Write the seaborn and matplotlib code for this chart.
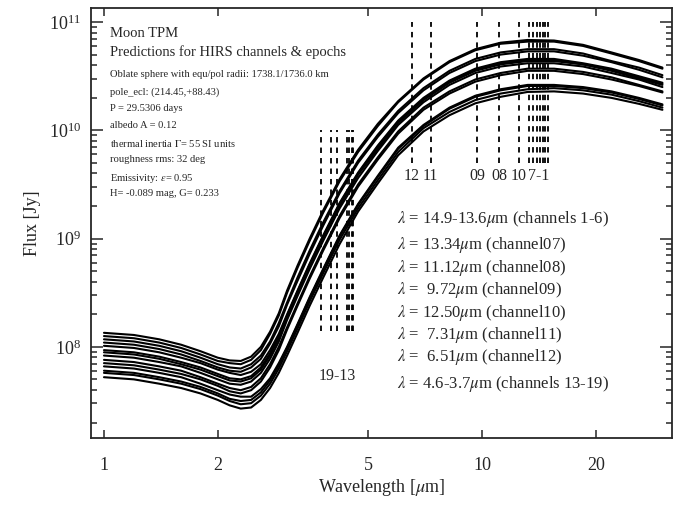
import numpy as np
import pandas as pd
import matplotlib
matplotlib.use("Agg")
import matplotlib.pyplot as plt
import seaborn as sns
from matplotlib.ticker import FixedLocator, NullLocator, LogLocator, LogFormatterSciNotation, FixedFormatter

# ---------------- data ----------------
wavelength = [1.0, 1.2, 1.4, 1.6, 1.8, 2.0, 2.15, 2.3, 2.45, 2.6, 2.75, 2.9, 3.05, 3.25, 3.5,
              3.8, 4.2, 4.7, 5.3, 6.0, 7.0, 8.2, 9.6, 11.2, 13.2, 15.5, 18.5, 22.0, 26.0, 30.0]

# log10(flux [Jy]) of each epoch's TPM prediction
logflux_e01 = [8.13, 8.11, 8.07, 8.02, 7.96, 7.90, 7.875, 7.87, 7.91, 8.00, 8.14, 8.31, 8.52, 8.75, 9.00, 9.26, 9.55, 9.82, 10.06, 10.27, 10.48, 10.64, 10.75, 10.81, 10.835, 10.83, 10.79, 10.72, 10.65, 10.58]
logflux_e02 = [8.10, 8.08, 8.04, 7.99, 7.93, 7.87, 7.85, 7.84, 7.88, 7.97, 8.12, 8.29, 8.50, 8.73, 8.98, 9.24, 9.53, 9.80, 10.04, 10.26, 10.47, 10.63, 10.74, 10.80, 10.82, 10.82, 10.78, 10.71, 10.64, 10.57]
logflux_e03 = [8.07, 8.05, 8.01, 7.96, 7.90, 7.84, 7.81, 7.80, 7.84, 7.92, 8.05, 8.22, 8.41, 8.64, 8.89, 9.15, 9.44, 9.72, 9.96, 10.18, 10.39, 10.55, 10.66, 10.72, 10.75, 10.75, 10.71, 10.64, 10.58, 10.51]
logflux_e04 = [8.04, 8.02, 7.98, 7.93, 7.87, 7.81, 7.78, 7.77, 7.81, 7.89, 8.03, 8.19, 8.39, 8.61, 8.86, 9.12, 9.42, 9.70, 9.94, 10.16, 10.37, 10.53, 10.64, 10.70, 10.73, 10.73, 10.69, 10.63, 10.56, 10.49]
logflux_e05 = [8.01, 7.99, 7.95, 7.90, 7.85, 7.79, 7.76, 7.74, 7.77, 7.84, 7.97, 8.12, 8.30, 8.52, 8.77, 9.03, 9.33, 9.61, 9.86, 10.09, 10.30, 10.46, 10.57, 10.63, 10.66, 10.66, 10.62, 10.57, 10.50, 10.44]
logflux_e06 = [7.97, 7.95, 7.91, 7.86, 7.81, 7.75, 7.71, 7.70, 7.73, 7.81, 7.94, 8.10, 8.29, 8.51, 8.76, 9.02, 9.32, 9.60, 9.85, 10.08, 10.29, 10.45, 10.56, 10.62, 10.65, 10.65, 10.61, 10.56, 10.49, 10.43]
logflux_e07 = [7.95, 7.93, 7.89, 7.84, 7.79, 7.73, 7.69, 7.68, 7.71, 7.79, 7.92, 8.08, 8.27, 8.50, 8.75, 9.01, 9.30, 9.59, 9.83, 10.07, 10.28, 10.44, 10.55, 10.61, 10.64, 10.64, 10.61, 10.55, 10.48, 10.42]
logflux_e08 = [7.92, 7.90, 7.86, 7.82, 7.76, 7.70, 7.66, 7.65, 7.68, 7.76, 7.89, 8.05, 8.25, 8.47, 8.72, 8.98, 9.28, 9.56, 9.81, 10.05, 10.26, 10.42, 10.53, 10.59, 10.62, 10.62, 10.59, 10.53, 10.47, 10.40]
logflux_e09 = [7.88, 7.86, 7.82, 7.78, 7.72, 7.66, 7.62, 7.60, 7.63, 7.71, 7.84, 8.00, 8.18, 8.40, 8.65, 8.91, 9.21, 9.50, 9.75, 9.99, 10.21, 10.36, 10.47, 10.53, 10.57, 10.57, 10.54, 10.49, 10.42, 10.36]
logflux_e10 = [7.85, 7.83, 7.79, 7.75, 7.70, 7.64, 7.59, 7.57, 7.60, 7.68, 7.81, 7.97, 8.16, 8.38, 8.63, 8.89, 9.19, 9.48, 9.73, 9.97, 10.19, 10.34, 10.45, 10.51, 10.55, 10.55, 10.52, 10.47, 10.41, 10.35]
logflux_e11 = [7.82, 7.80, 7.76, 7.72, 7.66, 7.60, 7.56, 7.54, 7.54, 7.61, 7.71, 7.85, 8.00, 8.21, 8.46, 8.72, 9.03, 9.32, 9.58, 9.84, 10.05, 10.21, 10.32, 10.38, 10.42, 10.42, 10.40, 10.36, 10.30, 10.24]
logflux_e12 = [7.78, 7.76, 7.72, 7.68, 7.63, 7.57, 7.52, 7.50, 7.51, 7.58, 7.69, 7.83, 7.99, 8.20, 8.45, 8.71, 9.02, 9.31, 9.57, 9.83, 10.04, 10.20, 10.31, 10.37, 10.41, 10.41, 10.39, 10.35, 10.29, 10.23]
logflux_e13 = [7.76, 7.74, 7.70, 7.66, 7.61, 7.55, 7.50, 7.47, 7.48, 7.55, 7.66, 7.80, 7.96, 8.17, 8.42, 8.68, 8.99, 9.28, 9.54, 9.80, 10.02, 10.17, 10.28, 10.34, 10.38, 10.39, 10.37, 10.33, 10.27, 10.21]
logflux_e14 = [7.72, 7.70, 7.66, 7.62, 7.57, 7.51, 7.46, 7.43, 7.44, 7.51, 7.62, 7.76, 7.92, 8.13, 8.38, 8.64, 8.95, 9.25, 9.51, 9.77, 9.99, 10.14, 10.25, 10.31, 10.355, 10.36, 10.34, 10.30, 10.245, 10.19]

epochs = {
    "e01": logflux_e01, "e02": logflux_e02, "e03": logflux_e03, "e04": logflux_e04,
    "e05": logflux_e05, "e06": logflux_e06, "e07": logflux_e07, "e08": logflux_e08,
    "e09": logflux_e09, "e10": logflux_e10, "e11": logflux_e11, "e12": logflux_e12,
    "e13": logflux_e13, "e14": logflux_e14,
}

# HIRS channel wavelengths [micron]
long_channels = [14.95, 14.71, 14.49, 14.22, 13.97, 13.64, 13.34, 11.12, 9.72, 12.50, 7.31, 6.51]
short_channels = [4.57, 4.52, 4.46, 4.40, 4.13, 3.98, 3.76]
long_span = [5.0e9, 1.0e11]
short_span = [1.4e8, 1.0e10]

long_labels = ["12", "11", "09", "08", "10", "7-1"]
long_label_x = [6.51, 7.31, 9.72, 11.12, 12.50, 14.1]
short_label = "19-13"

info_lines = [
    "Oblate sphere with equ/pol radii: 1738.1/1736.0 km",
    "pole_ecl: (214.45,+88.43)",
    "P = 29.5306 days",
    "albedo A = 0.12",
    r"thermal inertia $\Gamma$= 55 SI units",
    "roughness rms: 32 deg",
    r"Emissivity: $\varepsilon$= 0.95",
    "H= -0.089 mag, G= 0.233",
]
channel_lines = [
    r"$\lambda$ = 14.9-13.6$\mu$m (channels 1-6)",
    r"$\lambda$ = 13.34$\mu$m (channel07)",
    r"$\lambda$ = 11.12$\mu$m (channel08)",
    r"$\lambda$ =  9.72$\mu$m (channel09)",
    r"$\lambda$ = 12.50$\mu$m (channel10)",
    r"$\lambda$ =  7.31$\mu$m (channel11)",
    r"$\lambda$ =  6.51$\mu$m (channel12)",
    r"$\lambda$ = 4.6-3.7$\mu$m (channels 13-19)",
]

x_ticks = [1, 2, 5, 10, 20]

# ---------------- style ----------------
sns.set_style("ticks")
plt.rcParams["font.family"] = ["Liberation Serif", "DejaVu Serif"]
plt.rcParams["mathtext.fontset"] = "stix"
plt.rcParams["axes.linewidth"] = 1.3

rows = []
for name, vals in epochs.items():
    for w, v in zip(wavelength, vals):
        rows.append({"epoch": name, "wavelength": w, "flux": 10.0 ** v})
df = pd.DataFrame(rows)

fig = plt.figure(figsize=(6.92, 5.08), dpi=100)
ax = fig.add_axes([91 / 692, 1 - 438 / 508, (672 - 91) / 692, (438 - 8) / 508])

sns.lineplot(data=df, x="wavelength", y="flux", hue="epoch", units="epoch",
             estimator=None, palette=["black"] * len(epochs), linewidth=1.5,
             legend=False, ax=ax, sort=False)

ax.set_xscale("log")
ax.set_yscale("log")
ax.set_xlim(0.924, 31.8)
ax.set_ylim(1.44e7, 1.35e11)

dash = (0, (3.0, 2.8))
for w in long_channels:
    ax.plot([w, w], long_span, color="black", lw=1.3, linestyle=dash)
for w in short_channels:
    ax.plot([w, w], short_span, color="black", lw=1.3, linestyle=dash)

for lab, xw in zip(long_labels, long_label_x):
    ax.text(xw, 3.75e9, lab, ha="center", va="center", fontsize=11.5)
ax.text(4.15, 5.4e7, short_label, ha="center", va="center", fontsize=11.5)

# annotations
ax.text(0.033, 0.955, "Moon TPM", transform=ax.transAxes, fontsize=10.5, va="top")
ax.text(0.033, 0.913, "Predictions for HIRS channels & epochs", transform=ax.transAxes,
        fontsize=10.5, va="top")
y0 = 0.855
for i, line in enumerate(info_lines):
    ax.text(0.033, y0 - i * 0.0395, line, transform=ax.transAxes, fontsize=7.6, va="top")

ch_y = [0.509, 0.449, 0.395, 0.344, 0.291, 0.240, 0.188, 0.126]
for yy, line in zip(ch_y, channel_lines):
    ax.text(0.527, yy, line, transform=ax.transAxes, fontsize=12, va="center")

# axes, ticks
ax.xaxis.set_major_locator(FixedLocator(x_ticks))
ax.xaxis.set_major_formatter(FixedFormatter([str(t) for t in x_ticks]))
ax.xaxis.set_minor_locator(NullLocator())
ax.yaxis.set_major_locator(LogLocator(base=10))
ax.yaxis.set_minor_locator(LogLocator(base=10, subs=np.arange(2, 10)))
ax.yaxis.set_major_formatter(LogFormatterSciNotation())
ax.tick_params(axis="x", which="major", direction="in", length=6, width=1.1,
               top=True, bottom=True, labelsize=13, pad=14)
ax.tick_params(axis="y", which="major", direction="in", length=8.5, width=1.1,
               left=True, right=True, labelsize=13, pad=7)
ax.tick_params(axis="y", which="minor", direction="in", length=4.3, width=1.1,
               left=True, right=True)

ax.set_xlabel(r"Wavelength [$\mu$m]", fontsize=13, labelpad=2)
ax.set_ylabel("Flux [Jy]", fontsize=13, labelpad=6)

fig.savefig("out.png", dpi=100)
